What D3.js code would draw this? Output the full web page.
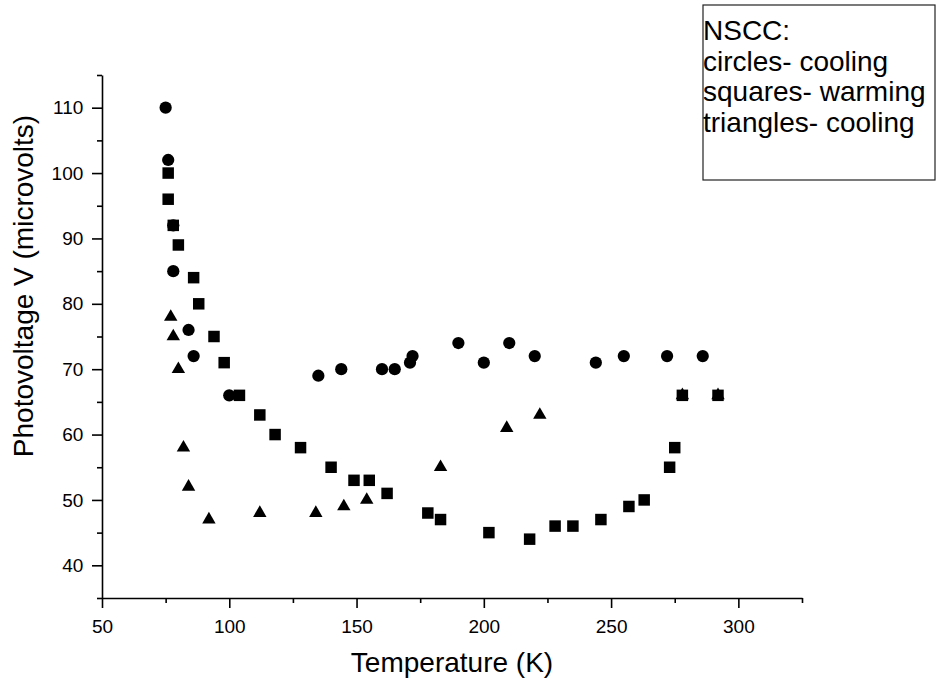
<!DOCTYPE html>
<html>
<head>
<meta charset="utf-8">
<script src="https://cdnjs.cloudflare.com/ajax/libs/d3/7.8.5/d3.min.js"></script>
<style>
  body { margin: 0; background: #fff; }
  svg { display: block; font-family: "Liberation Sans", Arial, sans-serif; }
</style>
</head>
<body>
<script>
// photovoltage vs temperature, three runs

var circlesT = [75, 76, 78, 78, 84, 86, 100, 135, 144, 160, 165, 171, 172, 190, 200, 210, 220, 244, 255, 272, 286];
var circlesV = [110, 102, 92, 85, 76, 72, 66, 69, 70, 70, 70, 71, 72, 74, 71, 74, 72, 71, 72, 72, 72];

var squaresT = [76, 76, 78, 80, 86, 88, 94, 98, 104, 112, 118, 128, 140, 149, 155, 162, 178, 183, 202, 218, 228, 235, 246, 257, 263, 273, 275, 278, 292];
var squaresV = [100, 96, 92, 89, 84, 80, 75, 71, 66, 63, 60, 58, 55, 53, 53, 51, 48, 47, 45, 44, 46, 46, 47, 49, 50, 55, 58, 66, 66];

var trianglesT = [77, 78, 80, 82, 84, 92, 112, 134, 145, 154, 183, 209, 222, 278, 292];
var trianglesV = [78, 75, 70, 58, 52, 47, 48, 48, 49, 50, 55, 61, 63, 66, 66];

var xTicks = [50, 100, 150, 200, 250, 300];
var xMinor = [75, 125, 175, 225, 275, 325];
var yTicks = [40, 50, 60, 70, 80, 90, 100, 110];
var yMinor = [35, 45, 55, 65, 75, 85, 95, 105, 115];

var legendLines = ['NSCC:', 'circles- cooling', 'squares- warming', 'triangles- cooling'];

var width = 937;
var height = 685;

var x = d3.scaleLinear().domain([50, 325]).range([102, 802]);
var y = d3.scaleLinear().domain([35, 115]).range([598, 75]);

var svg = d3.select('body')
  .append('svg')
    .attr('width', width)
    .attr('height', height);

// axes
var xAxis = svg.append('g')
  .attr('transform', 'translate(0,598)')
  .call(d3.axisBottom(x).tickValues(xTicks).tickSize(10).tickSizeOuter(0).tickPadding(11.4));

svg.append('g')
  .attr('transform', 'translate(0,598)')
  .call(d3.axisBottom(x).tickValues(xMinor).tickSize(5).tickFormat(''))
  .select('.domain').remove();

var yAxis = svg.append('g')
  .attr('transform', 'translate(102,0)')
  .call(d3.axisLeft(y).tickValues(yTicks).tickSize(10).tickSizeOuter(0).tickPadding(8.7));

svg.append('g')
  .attr('transform', 'translate(102,0)')
  .call(d3.axisLeft(y).tickValues(yMinor).tickSize(5).tickFormat(''))
  .select('.domain').remove();

svg.selectAll('.domain, .tick line')
  .attr('stroke', '#000')
  .attr('stroke-width', 1.6);

svg.selectAll('.tick text')
  .attr('fill', '#000')
  .style('font-size', '19px')
  .style('font-family', '"Liberation Sans", Arial, sans-serif');

// axis titles
svg.append('text')
  .attr('x', 452)
  .attr('y', 672)
  .attr('text-anchor', 'middle')
  .style('font-size', '28px')
  .text('Temperature (K)');

svg.append('text')
  .attr('transform', 'translate(33,286) rotate(-90)')
  .attr('text-anchor', 'middle')
  .style('font-size', '28px')
  .text('Photovoltage V (microvolts)');

// markers
function plot(ts, vs, type, size) {
  svg.append('g')
    .selectAll('path')
    .data(ts)
    .enter().append('path')
    .attr('transform', function (d, i) { return 'translate(' + x(d) + ',' + y(vs[i]) + ')'; })
    .attr('d', d3.symbol().type(type).size(size))
    .style('fill', '#000');
}

plot(circlesT, circlesV, d3.symbolCircle, 118);
plot(squaresT, squaresV, d3.symbolSquare, 132);
plot(trianglesT, trianglesV, d3.symbolTriangle, 78);

// legend box
svg.append('rect')
  .attr('x', 703)
  .attr('y', 5)
  .attr('width', 232)
  .attr('height', 175)
  .style('fill', 'none')
  .style('stroke', '#222')
  .style('stroke-width', 1.2);

svg.append('g')
  .selectAll('text')
  .data(legendLines)
  .enter().append('text')
  .attr('x', 703)
  .attr('y', function (d, i) { return 40 + i * 30.5; })
  .style('font-size', '28px')
  .text(function (d) { return d; });
</script>
</body>
</html>
